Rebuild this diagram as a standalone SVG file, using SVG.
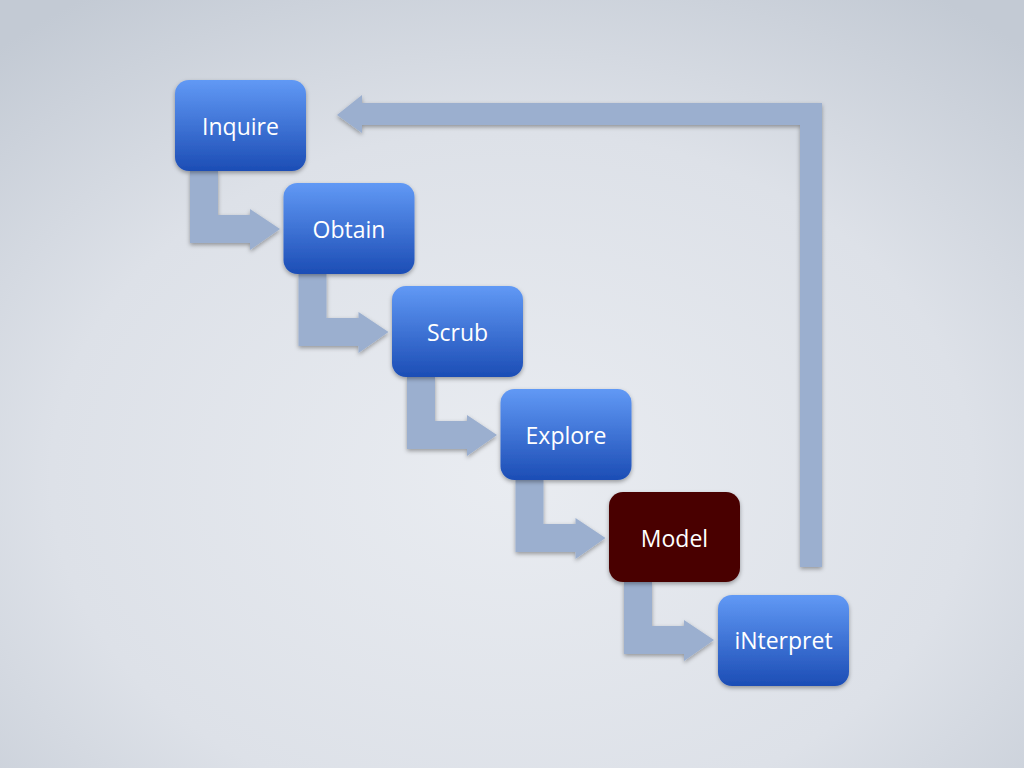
<svg xmlns="http://www.w3.org/2000/svg" width="1024" height="768" viewBox="0 0 1024 768">
<defs>
<radialGradient id="bg" cx="0.5" cy="0.62" r="0.75">
<stop offset="0" stop-color="#e9ecf1"/>
<stop offset="0.6" stop-color="#dde1e8"/>
<stop offset="1" stop-color="#c3cad4"/>
</radialGradient>
<linearGradient id="blue" x1="0" y1="0" x2="0" y2="1">
<stop offset="0" stop-color="#6199f5"/>
<stop offset="1" stop-color="#1c4db5"/>
</linearGradient>
<filter id="sh" x="-20%" y="-20%" width="140%" height="140%">
<feDropShadow dx="0" dy="2" stdDeviation="2" flood-color="#000" flood-opacity="0.35"/>
</filter>
</defs>
<style>
.box{fill:url(#blue);filter:url(#sh)}
.red{fill:#4a0000;filter:url(#sh)}
.lbl{font-family:"Open Sans","Noto Sans","Liberation Sans",sans-serif;font-size:23px;fill:#ffffff;text-anchor:middle;dominant-baseline:central}
.arr{fill:#9bafcf;filter:url(#sh)}
</style>
<rect width="1024" height="768" fill="url(#bg)"/>
<g id="connectors">
<path class="arr" d="M190,171 H218 V215 H250 V209 L280,229 L250,250 V243 H190 Z"/>
<path class="arr" d="M298.5,274 H326.5 V318 H358.5 V312 L388.5,332 L358.5,353 V346 H298.5 Z"/>
<path class="arr" d="M407,377 H435 V421 H467 V415 L497,435 L467,456 V449 H407 Z"/>
<path class="arr" d="M515.5,480 H543.5 V524 H575.5 V518 L605.5,538 L575.5,559 V552 H515.5 Z"/>
<path class="arr" d="M624,582 H652 V626 H684 V620 L714,640 L684,661 V654 H624 Z"/>
<path class="arr" d="M822,103 V567 H800 V125 H362 V133 L337,115 L362,95 V103 Z"/>
</g>
<g id="inquire"><rect class="box" x="175" y="80" width="131" height="91" rx="14"/><text class="lbl" x="240.5" y="126">Inquire</text></g>
<g id="obtain"><rect class="box" x="283.5" y="183" width="131" height="91" rx="14"/><text class="lbl" x="349" y="229">Obtain</text></g>
<g id="scrub"><rect class="box" x="392" y="286" width="131" height="91" rx="14"/><text class="lbl" x="457.5" y="332">Scrub</text></g>
<g id="explore"><rect class="box" x="500.5" y="389" width="131" height="91" rx="14"/><text class="lbl" x="566" y="435">Explore</text></g>
<g id="model"><rect class="red" x="609" y="492" width="131" height="90" rx="14"/><text class="lbl" x="674.5" y="538">Model</text></g>
<g id="interpret"><rect class="box" x="718" y="595" width="131" height="91" rx="14"/><text class="lbl" x="783.5" y="640">iNterpret</text></g>
</svg>
